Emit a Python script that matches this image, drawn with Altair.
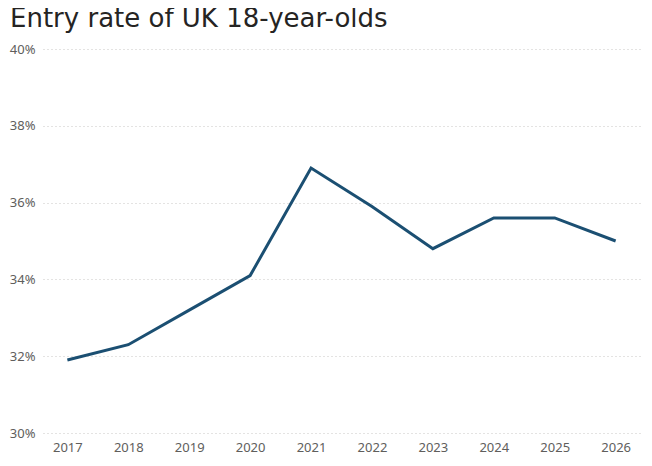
import altair as alt
import pandas as pd

years = ["2017", "2018", "2019", "2020", "2021", "2022", "2023", "2024", "2025", "2026"]
rates = [31.9, 32.3, 33.2, 34.1, 36.9, 35.9, 34.8, 35.6, 35.6, 35.0]

df = pd.DataFrame({"year": years, "rate": [r / 100 for r in rates]})

chart = (
    alt.Chart(df)
    .mark_line(color="#1B4F72", strokeWidth=3, strokeJoin="miter")
    .encode(
        x=alt.X(
            "year:O",
            title=None,
            scale=alt.Scale(type="point", padding=0.4),
            axis=alt.Axis(
                labelAngle=0,
                ticks=False,
                domain=False,
                grid=False,
                labelPadding=8,
                labelFontSize=13,
                labelColor="#605E5C",
                labelFont="Noto Sans",
            ),
        ),
        y=alt.Y(
            "rate:Q",
            title=None,
            scale=alt.Scale(domain=[0.30, 0.40], nice=False, zero=False),
            axis=alt.Axis(
                format=".0%",
                values=[0.30, 0.32, 0.34, 0.36, 0.38, 0.40],
                ticks=False,
                domain=False,
                grid=True,
                gridDash=[1, 3],
                gridColor="#C8C6C4",
                gridWidth=1,
                labelPadding=8,
                labelFontSize=13,
                labelColor="#605E5C",
                labelFont="Noto Sans",
            ),
        ),
    )
    .properties(
        width=597,
        height=384,
        autosize=alt.AutoSizeParams(type="none"),
        padding={"left": 35, "top": 41, "right": 4, "bottom": 30},
        title=alt.TitleParams(
            "Entry rate of UK 18-year-olds",
            anchor="start",
            frame="group",
            dx=-33,
            offset=11,
            fontSize=26,
            fontWeight="normal",
            font="DejaVu Sans",
            color="#252423",
        ),
    )
    .configure_view(stroke=None)
)

chart.save("out.html", embed_options={"renderer": "svg", "actions": False})
